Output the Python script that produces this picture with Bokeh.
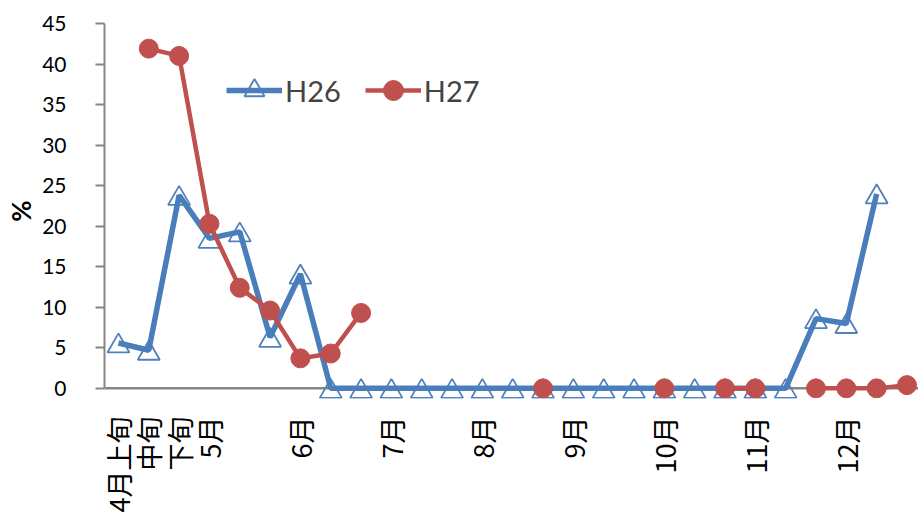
import numpy as np
from bokeh.plotting import figure
from bokeh.models import FixedTicker, Range1d, Legend, LegendItem, ColumnDataSource, Span
from bokeh.transform import dodge
from bokeh.embed import file_html
from bokeh.resources import INLINE

# ---- data ----
n_cat = 27
tick_idx = [0, 1, 2, 3, 6, 9, 12, 15, 18, 21, 24]
tick_labels = ["4月上旬", "中旬", "下旬", "5月", "6月", "7月", "8月", "9月", "10月", "11月", "12月"]

h26 = [5.6, 4.7, 23.8, 18.5, 19.3, 6.3, 14.1,
       0, 0, 0, 0, 0, 0, 0, 0, 0, 0, 0, 0, 0, 0, 0, 0,
       8.6, 8.0, 24.0, None]
h27 = [None, 41.9, 41.0, 20.3, 12.4, 9.6, 3.7, 4.3, 9.3,
       None, None, None, None, None, 0, None, None, None, 0, None, 0, 0, None,
       0, 0, 0, 0.4]

x = list(range(n_cat))
def arr(v):
    return np.array([np.nan if a is None else a for a in v], dtype=float)

src = ColumnDataSource(dict(x=x, h26=arr(h26), h27=arr(h27)))

BLUE = "#4A7EBB"
BLUE_M = "#4F81BD"
RED = "#C0504D"
AXIS = "#868686"

p = figure(width=918, height=517, output_backend="svg", toolbar_location=None,
           x_range=Range1d(-0.46, 26.38), y_range=Range1d(-1.25, 45),
           min_border_left=104, min_border_right=0, min_border_top=23, min_border_bottom=119)
p.outline_line_color = None
p.grid.visible = False

# x axis line at zero
p.add_layout(Span(location=0, dimension="width", line_color=AXIS, line_width=2.5, level="underlay"))

m26 = p.scatter("x", dodge("h26", -0.39, range=p.y_range), source=src, marker="triangle",
                size=22, fill_color=None, line_color=BLUE_M, line_width=1.8)
l26 = p.line("x", "h26", source=src, line_color=BLUE, line_width=5.5)
l27 = p.line("x", "h27", source=src, line_color=RED, line_width=4.5)
m27 = p.scatter("x", "h27", source=src, marker="circle", size=19, fill_color=RED, line_color=RED)

# axes
p.xaxis.ticker = FixedTicker(ticks=tick_idx)
p.xaxis.major_label_overrides = {i: l for i, l in zip(tick_idx, tick_labels)}
p.xaxis.major_label_orientation = np.pi / 2
p.xaxis.major_tick_line_color = None
p.xaxis.minor_tick_line_color = None
p.xaxis.axis_line_color = None
p.xaxis.major_label_text_font = "Noto Sans CJK JP"
p.xaxis.major_label_text_font_size = "27px"
p.xaxis.major_label_text_color = "#000000"
p.xaxis.major_label_standoff = 12

p.yaxis.bounds = (0, 45)
p.yaxis.ticker = FixedTicker(ticks=list(range(0, 50, 5)))
p.yaxis.axis_line_color = AXIS
p.yaxis.axis_line_width = 2
p.yaxis.major_tick_line_color = AXIS
p.yaxis.major_tick_line_width = 2
p.yaxis.major_tick_out = 9
p.yaxis.major_tick_in = 0
p.yaxis.minor_tick_line_color = None
p.yaxis.major_label_text_font = "Lato"
p.yaxis.major_label_text_font_size = "21px"
p.yaxis.major_label_text_color = "#000000"
p.yaxis.major_label_standoff = 29
p.yaxis.axis_label = "%"
p.yaxis.axis_label_text_font = "Lato"
p.yaxis.axis_label_text_font_size = "26px"
p.yaxis.axis_label_text_font_style = "bold"
p.yaxis.axis_label_text_color = "#000000"
p.yaxis.axis_label_standoff = 2

legend = Legend(items=[LegendItem(label="H26", renderers=[l26, m26]),
                       LegendItem(label="H27", renderers=[l27, m27])],
                orientation="horizontal", location=(122, 283),
                glyph_width=56, glyph_height=50, label_text_font="Lato",
                label_text_font_size="29px", label_standoff=3, spacing=24,
                padding=0, margin=0, background_fill_alpha=0,
                border_line_color=None, label_text_baseline="middle")
p.add_layout(legend, "center")

open("out.html", "w").write(file_html(p, INLINE))
